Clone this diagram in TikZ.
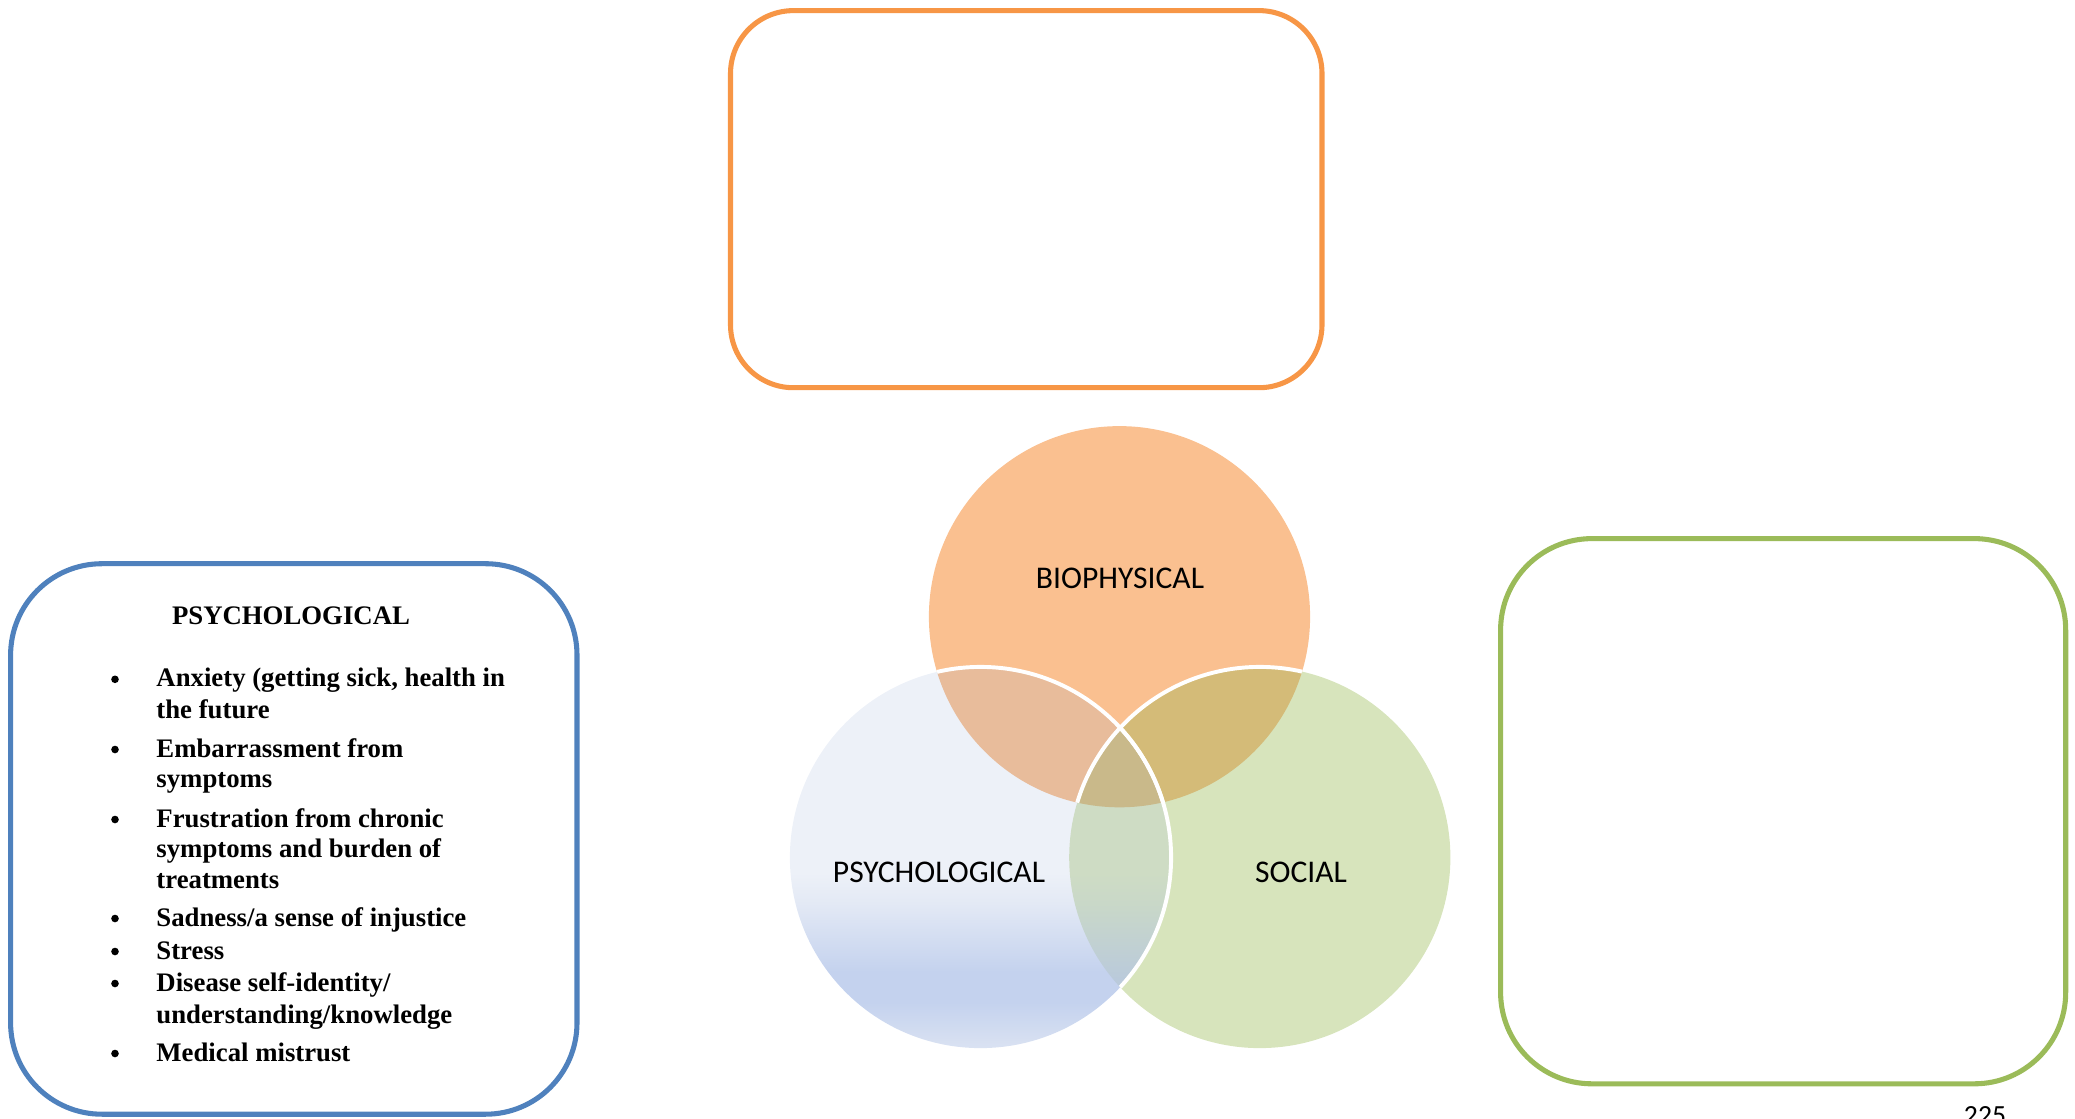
\documentclass[tikz,border=0pt]{standalone}
\usepackage{fontspec}
\setmainfont{Liberation Serif}
\newfontfamily\calibri{Carlito}

\definecolor{boxorange}{HTML}{F79646}
\definecolor{boxblue}{HTML}{4F81BD}
\definecolor{boxgreen}{HTML}{9BBB59}
\definecolor{biofill}{HTML}{FAC090}
\definecolor{socfill}{HTML}{D7E4BC}
\definecolor{biopsy}{HTML}{E8BC9B}
\definecolor{biosoc}{HTML}{D4BB78}
\definecolor{allthree}{HTML}{C9B98A}
\definecolor{psyA}{HTML}{DAE2F2}
\definecolor{psyB}{HTML}{C4D2EE}
\definecolor{psyC}{HTML}{E3E9F5}
\definecolor{psyD}{HTML}{EDF1F8}
\definecolor{psocA}{HTML}{BACADB}
\definecolor{psocB}{HTML}{C9D8C8}
\definecolor{psocC}{HTML}{CEDCC4}

\pgfdeclareverticalshading{psychshade}{100bp}{color(0bp)=(psyA); color(25bp)=(psyA);
  color(31bp)=(psyB); color(35bp)=(psyB); color(44bp)=(psyC); color(48bp)=(psyD); color(100bp)=(psyD)}
\pgfdeclareverticalshading{psocshade}{100bp}{color(0bp)=(psocA); color(34bp)=(psocA);
  color(44bp)=(psocB); color(48bp)=(psocC); color(100bp)=(psocC)}

\begin{document}
\begin{tikzpicture}[x=0.4336pt,y=-0.4336pt,
	box/.style={line width=2.2pt},
	vennlabel/.style={anchor=base,font=\calibri\fontsize{13.7}{16}\selectfont},
	item/.style={anchor=base west,inner sep=0pt,font=\bfseries\fontsize{11.6}{14}\selectfont},
	bullet/.style={circle,fill=black,inner sep=0pt,minimum size=3.3pt}]

	\useasboundingbox (0,0) rectangle (2075,1118);
	\def\rad{190.6}

	% the three empty / filled boxes
	\draw[box,boxorange,rounded corners=27.3pt] (730.5,10.6) rectangle (1322,387.7);
	\draw[box,boxblue,rounded corners=39.6pt] (10.6,563.7) rectangle (577,1114.2);
	\draw[box,boxgreen,rounded corners=39.6pt] (1500.6,538.6) rectangle (2065.7,1083.8);

	% venn circles
	\coordinate (bio) at (1119.5,616.7);
	\coordinate (psy) at (980.5,857.5);
	\coordinate (soc) at (1259.8,857.5);

	\fill[biofill] (bio) circle (\rad);
	\fill[socfill] (soc) circle (\rad);
	\shade[shading=psychshade] (psy) circle (\rad);

	\begin{scope}
	\clip (bio) circle (\rad);
	\fill[biosoc] (soc) circle (\rad);
	\fill[biopsy] (psy) circle (\rad);
	\end{scope}

	\begin{scope}
	\clip (soc) circle (\rad);
	\shade[shading=psocshade] (psy) circle (\rad);
	\end{scope}

	\begin{scope}
	\clip (bio) circle (\rad);
	\clip (soc) circle (\rad);
	\fill[allthree] (psy) circle (\rad);
	\end{scope}

	% white outlines where circles overlap
	\begin{scope}
	\clip (bio) circle (\rad);
	\draw[white,line width=1.7pt] (soc) circle (\rad);
	\draw[white,line width=1.7pt] (psy) circle (\rad);
	\end{scope}
	\begin{scope}
	\clip (soc) circle (\rad);
	\draw[white,line width=1.7pt] (psy) circle (\rad);
	\end{scope}
	\begin{scope}
	\clip (psy) circle (\rad);
	\clip (bio) circle (\rad);
	\draw[white,opacity=.6,line width=1.2pt] (soc) circle (\rad);
	\end{scope}

	\node[vennlabel] (biolabel) at (1120,588) {BIOPHYSICAL};
	\node[vennlabel] (psylabel) at (939,882) {PSYCHOLOGICAL};
	\node[vennlabel] (soclabel) at (1301,882) {SOCIAL};

	% text of the psychological box
	\node[item,anchor=base] (psyhead) at (291,624.6) {PSYCHOLOGICAL};
	\foreach \yy/\txt [count=\i] in {686.8/{Anxiety (getting sick, health in},
		718.6/{the future},
		757/{Embarrassment from},
		787.4/{symptoms},
		827/{Frustration from chronic},
		857.5/{symptoms and burden of},
		888/{treatments},
		926/{Sadness/a sense of injustice},
		959/{Stress},
		991/{Disease self-identity/},
		1023/{understanding/knowledge},
		1061/{Medical mistrust}}
		\node[item] (line\i) at (156,\yy) {\txt};
	\foreach \yy [count=\i] in {686.8,757,827,926,959,991,1061}
		\node[bullet] (dot\i) at (115,\yy-7.5) {};

	\node[anchor=north,inner sep=0pt,font=\calibri\fontsize{12}{14}\selectfont] (pagenum) at (1985,1106) {225};

\end{tikzpicture}
\end{document}
